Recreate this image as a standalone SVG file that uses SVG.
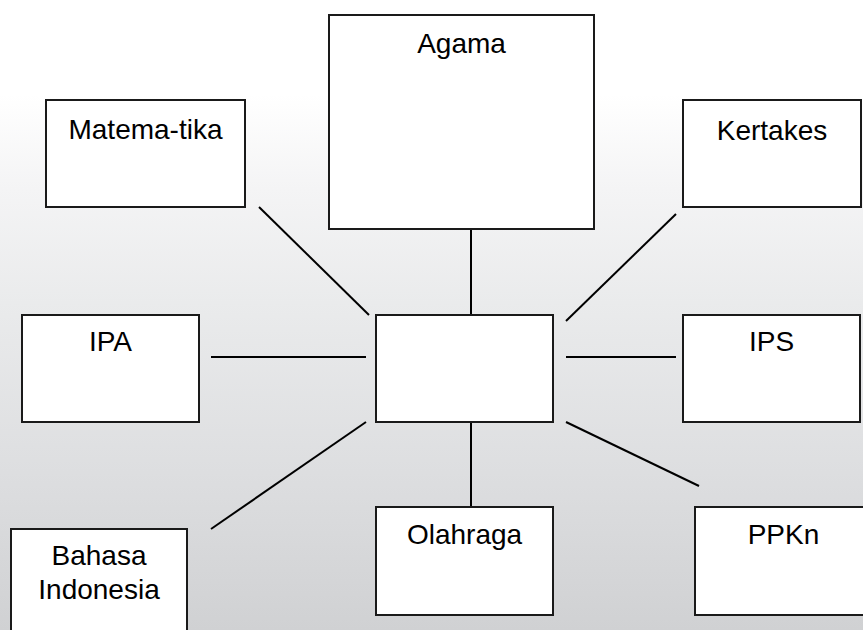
<svg xmlns="http://www.w3.org/2000/svg" width="863" height="630" viewBox="0 0 863 630">
<defs>
<linearGradient id="bg" x1="0" y1="0" x2="0" y2="1">
<stop offset="0" stop-color="#ffffff"/>
<stop offset="0.15" stop-color="#ffffff"/>
<stop offset="0.3" stop-color="#f4f4f5"/>
<stop offset="0.48" stop-color="#eaebec"/>
<stop offset="0.75" stop-color="#dddee0"/>
<stop offset="1" stop-color="#d0d1d3"/>
</linearGradient>
</defs>
<style>
.box{fill:#ffffff;stroke:#1a1a1a;stroke-width:2}
.lbl{font-family:"Liberation Sans",Arial,sans-serif;font-size:28px;fill:#000000;text-anchor:middle}
.con line{stroke:#000000;stroke-width:2}
</style>
<rect x="0" y="0" width="863" height="630" fill="url(#bg)"/>
<g id="connectors" class="con">
<line x1="471" y1="229" x2="471" y2="315"/>
<line x1="471" y1="422" x2="471" y2="507"/>
<line x1="259" y1="207" x2="369" y2="315"/>
<line x1="676" y1="214" x2="566" y2="321"/>
<line x1="211" y1="357" x2="366" y2="357"/>
<line x1="566" y1="357" x2="676" y2="357"/>
<line x1="366" y1="422" x2="211" y2="529"/>
<line x1="566" y1="422" x2="699" y2="486"/>
</g>
<g id="agama">
<rect class="box" x="329" y="15" width="265" height="214"/>
<text class="lbl" x="461.5" y="53">Agama</text>
</g>
<g id="matematika">
<rect class="box" x="46" y="100" width="199" height="107"/>
<text class="lbl" x="145.5" y="139">Matema-tika</text>
</g>
<g id="kertakes">
<rect class="box" x="683" y="100" width="178" height="107"/>
<text class="lbl" x="772" y="140">Kertakes</text>
</g>
<g id="ipa">
<rect class="box" x="22" y="315" width="177" height="107"/>
<text class="lbl" x="110.5" y="351">IPA</text>
</g>
<g id="center">
<rect class="box" x="376" y="315" width="177" height="107"/>
</g>
<g id="ips">
<rect class="box" x="683" y="315" width="177" height="107"/>
<text class="lbl" x="771.5" y="351">IPS</text>
</g>
<g id="bahasa">
<rect class="box" x="11" y="529" width="176" height="120"/>
<text class="lbl" x="99" y="565">Bahasa</text>
<text class="lbl" x="99" y="599">Indonesia</text>
</g>
<g id="olahraga">
<rect class="box" x="376" y="507" width="177" height="108"/>
<text class="lbl" x="464.5" y="544">Olahraga</text>
</g>
<g id="ppkn">
<rect class="box" x="695" y="507" width="177" height="108"/>
<text class="lbl" x="783.5" y="544">PPKn</text>
</g>
</svg>
